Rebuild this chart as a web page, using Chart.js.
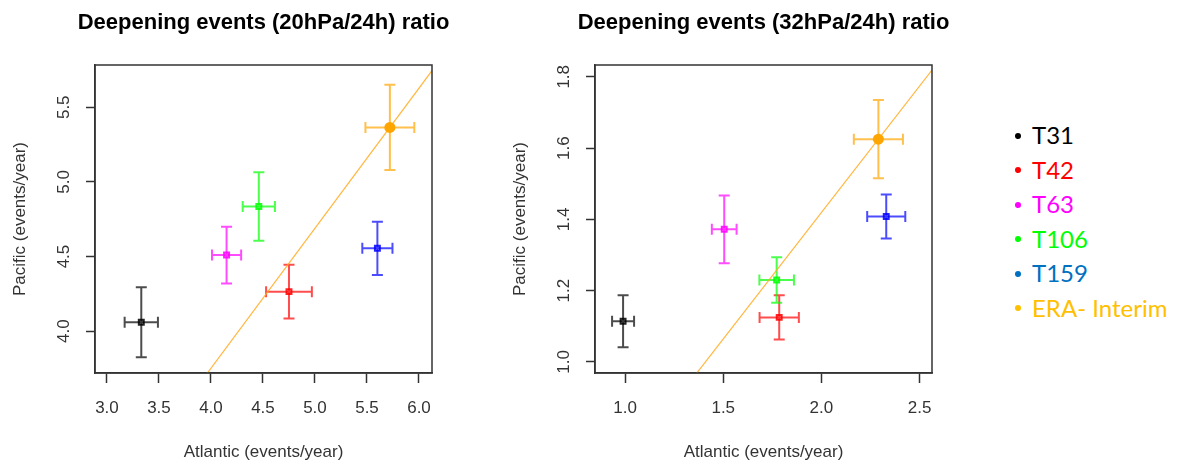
<!DOCTYPE html>
<html>
<head>
<meta charset="utf-8">
<script src="https://cdn.jsdelivr.net/npm/chart.js@4.4.1/dist/chart.umd.min.js"></script>
<style>
  body { margin: 0; background: #fff; width: 1183px; height: 463px; position: relative; overflow: hidden; }
  .plot { position: absolute; top: 0; width: 450px; height: 463px; }
  .title { position: absolute; top: 10.5px; width: 500px; text-align: center; white-space: nowrap;
           font-family: 'Liberation Sans', Arial, sans-serif; font-weight: bold; font-size: 22px; line-height: 22px; color: #000; }
  #legend { position: absolute; left: 1015px; top: 118px; font-family: Lato, sans-serif; font-size: 24px; line-height: 34.5px; }
  #legend div { white-space: nowrap; }
  #legend .dot { display: inline-block; width: 6px; height: 6px; border-radius: 3px; margin-right: 11px; vertical-align: middle; position: relative; top: -2px; }
</style>
</head>
<body>
<div class="plot" style="left:0px"><canvas id="c20"></canvas></div>
<div class="plot" style="left:500px"><canvas id="c32"></canvas></div>
<div class="title" style="left:13.5px">Deepening events (20hPa/24h) ratio</div>
<div class="title" style="left:513.5px">Deepening events (32hPa/24h) ratio</div>
<div id="legend"></div>
<script>
var models = ["T31", "T42", "T63", "T106", "T159", "ERA- Interim"];
var markColors = ["#000000", "#ff0000", "#ff00ff", "#00ff00", "#0000ff", "#ffa500"];
var legendColors = ["#000000", "#ff0000", "#ff00ff", "#00ff00", "#0070c0", "#ffc000"];

// 20hPa/24h deepening events
var atl20 = [3.33, 4.75, 4.15, 4.46, 5.60, 5.72];
var pac20 = [4.06, 4.265, 4.51, 4.835, 4.555, 5.365];
var atl20Err = [0.16, 0.22, 0.14, 0.155, 0.145, 0.235];
var pac20Err = [0.235, 0.18, 0.19, 0.23, 0.178, 0.285];
var xTicks20 = [3.0, 3.5, 4.0, 4.5, 5.0, 5.5, 6.0];
var yTicks20 = [4.0, 4.5, 5.0, 5.5];

// 32hPa/24h deepening events
var atl32 = [0.99, 1.785, 1.505, 1.772, 2.33, 2.29];
var pac32 = [1.114, 1.125, 1.372, 1.23, 1.408, 1.625];
var atl32Err = [0.056, 0.10, 0.063, 0.088, 0.097, 0.125];
var pac32Err = [0.073, 0.062, 0.095, 0.064, 0.062, 0.11];
var xTicks32 = [1.0, 1.5, 2.0, 2.5];
var yTicks32 = [1.0, 1.2, 1.4, 1.6, 1.8];

function alpha(hex, a) {
  var n = parseInt(hex.slice(1), 16);
  return "rgba(" + (n >> 16) + "," + ((n >> 8) & 255) + "," + (n & 255) + "," + a + ")";
}

// error bars with caps, drawn under the markers
var errorBars = {
  id: "errorBars",
  beforeDatasetsDraw: function (chart) {
    var ctx = chart.ctx, xs = chart.scales.x, ys = chart.scales.y;
    chart.data.datasets.forEach(function (ds) {
      if (!ds.xErr) return;
      ds.data.forEach(function (p, i) {
        var px = xs.getPixelForValue(p.x), py = ys.getPixelForValue(p.y);
        var x0 = xs.getPixelForValue(p.x - ds.xErr[i]), x1 = xs.getPixelForValue(p.x + ds.xErr[i]);
        var y0 = ys.getPixelForValue(p.y - ds.yErr[i]), y1 = ys.getPixelForValue(p.y + ds.yErr[i]);
        var cap = 5.5;
        ctx.save();
        ctx.strokeStyle = alpha(markColors[i], 0.7);
        ctx.lineWidth = 2;
        ctx.beginPath();
        ctx.moveTo(x0, py); ctx.lineTo(x1, py);
        ctx.moveTo(x0, py - cap); ctx.lineTo(x0, py + cap);
        ctx.moveTo(x1, py - cap); ctx.lineTo(x1, py + cap);
        ctx.moveTo(px, y0); ctx.lineTo(px, y1);
        ctx.moveTo(px - cap, y0); ctx.lineTo(px + cap, y0);
        ctx.moveTo(px - cap, y1); ctx.lineTo(px + cap, y1);
        ctx.stroke();
        ctx.restore();
      });
    });
  }
};

// full frame around the plotting region
var frame = {
  id: "frame",
  afterDraw: function (chart) {
    var a = chart.chartArea, ctx = chart.ctx;
    ctx.save();
    ctx.strokeStyle = "#333";
    ctx.lineWidth = 1.5;
    ctx.strokeRect(a.left, a.top, a.right - a.left, a.bottom - a.top);
    ctx.restore();
  }
};

function makePlot(id, atl, pac, atlErr, pacErr, xTicks, yTicks, xr, yr) {
  var pts = atl.map(function (v, i) { return { x: v, y: pac[i] }; });
  var era = atl.length - 1;
  var k = pac[era] / atl[era];  // ratio line through the ERA-Interim point
  var ratioLine = [{ x: xr[0], y: k * xr[0] }, { x: xr[1], y: k * xr[1] }];

  new Chart(document.getElementById(id), {
    type: "scatter",
    data: {
      datasets: [
        {
          data: pts,
          xErr: atlErr,
          yErr: pacErr,
          pointStyle: pts.map(function (p, i) { return i === era ? "circle" : "rect"; }),
          pointRadius: pts.map(function (p, i) { return i === era ? 5.5 : 3.5; }),
          pointBorderWidth: pts.map(function (p, i) { return i === era ? 0 : 2; }),
          pointBorderColor: markColors.map(function (c) { return alpha(c, 0.85); }),
          pointBackgroundColor: markColors.map(function (c, i) { return i === era ? c : alpha(c, 0.3); }),
        },
        {
          type: "line",
          data: ratioLine,
          borderColor: "rgba(255,170,30,0.85)",
          borderWidth: 1.2,
          pointRadius: 0,
        },
      ],
    },
    options: {
      responsive: true,
      maintainAspectRatio: false,
      animation: false,
      events: [],
      layout: { padding: { left: 0, right: 18, top: 65, bottom: 0 } },
      plugins: {
        legend: { display: false },
        tooltip: { enabled: false },
        title: { display: false },
      },
      scales: {
        x: {
          type: "linear",
          min: xr[0],
          max: xr[1],
          afterBuildTicks: function (s) { s.ticks = xTicks.map(function (v) { return { value: v }; }); },
          afterFit: function (s) { s.height = 90; },
          grid: { drawOnChartArea: false, color: "#333", tickLength: 10, tickWidth: 1.5 },
          border: { color: "#333", width: 1.5 },
          ticks: {
            maxRotation: 0,
            autoSkip: false,
            padding: 15,
            color: "#333",
            font: { family: "'Liberation Sans', Arial, sans-serif", size: 17 },
            callback: function (v) { return v.toFixed(1); },
          },
          title: {
            display: true,
            text: "Atlantic (events/year)",
            color: "#333",
            padding: 0,
            font: { family: "'Liberation Sans', Arial, sans-serif", size: 17 },
          },
        },
        y: {
          type: "linear",
          min: yr[0],
          max: yr[1],
          afterBuildTicks: function (s) { s.ticks = yTicks.map(function (v) { return { value: v }; }); },
          afterFit: function (s) { s.width = 95; },
          grid: { drawOnChartArea: false, color: "#333", tickLength: 9, tickWidth: 1.5 },
          border: { color: "#333", width: 1.5 },
          ticks: {
            minRotation: 90,
            maxRotation: 90,
            autoSkip: false,
            crossAlign: "center",
            padding: 10,
            color: "#333",
            font: { family: "'Liberation Sans', Arial, sans-serif", size: 17 },
            callback: function (v) { return v.toFixed(1); },
          },
          title: {
            display: true,
            text: "Pacific (events/year)",
            color: "#333",
            padding: { top: 10.5, bottom: 0 },
            font: { family: "'Liberation Sans', Arial, sans-serif", size: 17 },
          },
        },
      },
    },
    plugins: [errorBars, frame],
  });
}

makePlot("c20", atl20, pac20, atl20Err, pac20Err, xTicks20, yTicks20, [2.885, 6.125], [3.72, 5.783]);
makePlot("c32", atl32, pac32, atl32Err, pac32Err, xTicks32, yTicks32, [0.847, 2.563], [0.969, 1.833]);

var legend = document.getElementById("legend");
models.forEach(function (m, i) {
  var row = document.createElement("div");
  row.style.color = legendColors[i];
  row.innerHTML = '<span class="dot" style="background:' + legendColors[i] + '"></span>' + m;
  legend.appendChild(row);
});
</script>
</body>
</html>
